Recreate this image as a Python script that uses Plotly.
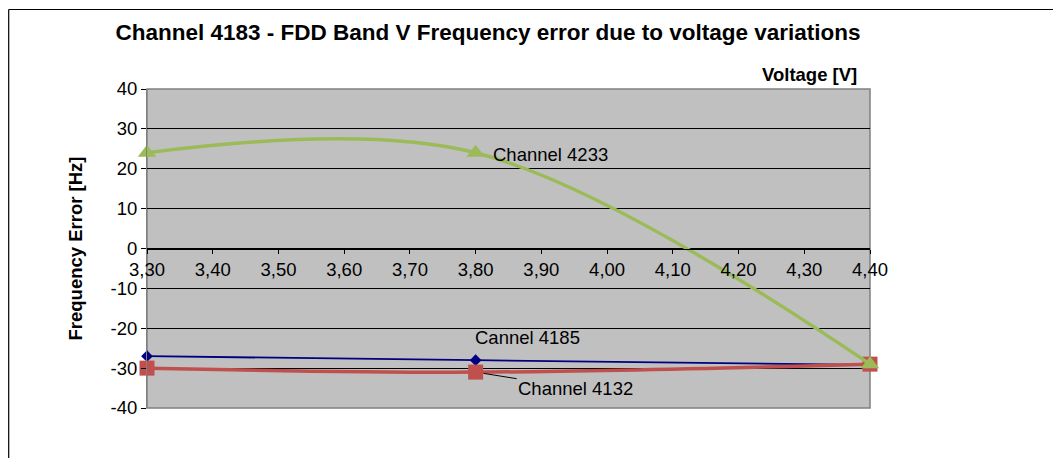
import plotly.graph_objects as go

voltage = [3.30, 3.80, 4.40]
ch4233 = [24, 24, -29]
ch4185 = [-27, -28, -29.2]
ch4132 = [-30, -31, -29]
y_ticks = [40, 30, 20, 10, 0, -10, -20, -30, -40]
y_ticktext = ["40", "30", "20", "10", "0", "-10", "-20", "-30", "-40"]
x_ticks = [3.30, 3.40, 3.50, 3.60, 3.70, 3.80, 3.90, 4.00, 4.10, 4.20, 4.30, 4.40]

FONT = "Liberation Sans, Arial, sans-serif"
FS = 18.5

fig = go.Figure()
fig.add_trace(go.Scatter(
    x=voltage, y=ch4185, mode="lines+markers", name="Cannel 4185", cliponaxis=False,
    line=dict(color="#000080", width=1.8, shape="spline"),
    marker=dict(symbol="diamond", size=9, color="#000080"),
))
fig.add_trace(go.Scatter(
    x=voltage, y=ch4132, mode="lines+markers", name="Channel 4132", cliponaxis=False,
    line=dict(color="#C0504D", width=3.5, shape="spline"),
    marker=dict(symbol="square", size=15, color="#C0504D"),
))
fig.add_trace(go.Scatter(
    x=voltage, y=ch4233, mode="lines+markers", name="Channel 4233", cliponaxis=False,
    line=dict(color="#9BBB59", width=3.5, shape="spline"),
    marker=dict(symbol="triangle-up", size=16, color="#9BBB59"),
))

# page body has an 8px margin: figure coordinates are screen minus 8
OFF = 8
W, H = 1061 - OFF, 458 - OFF
L, T = 147 - OFF, 89 - OFF
R = W - (870 - OFF)
B = H - (408 - OFF)
pw, ph = W - L - R, H - T - B

def px_x(sx):
    return (sx - OFF - L) / pw

def px_y(sy):
    return (H - B - (sy - OFF)) / ph

fig.update_layout(
    width=W, height=H,
    margin=dict(l=L, r=R, t=T, b=B, pad=0),
    paper_bgcolor="white", plot_bgcolor="#C0C0C0",
    showlegend=False,
    separators=",.",
    font=dict(family=FONT, size=FS, color="black"),
    title=dict(
        text="Channel 4183 - FDD Band V Frequency error due to voltage variations",
        font=dict(family=FONT, size=22.5, weight="bold", color="black"),
        x=(488 - OFF) / W, xanchor="center", xref="container",
        y=1 - (32 - OFF) / H, yanchor="middle", yref="container",
    ),
    xaxis=dict(
        range=[3.30, 4.40], tickvals=x_ticks, tickformat=".2f",
        anchor="free", position=0.5,
        showline=True, linecolor="black", linewidth=1,
        ticks="outside", ticklen=4, tickcolor="black",
        showgrid=False, zeroline=False,
        tickfont=dict(family=FONT, size=FS, color="black"),
    ),
    yaxis=dict(
        range=[-40, 40], tickvals=y_ticks, ticktext=y_ticktext,
        showline=True, linecolor="#808080", linewidth=1,
        ticks="outside", ticklen=5, tickcolor="black",
        showgrid=True, gridcolor="black", gridwidth=1, zeroline=False,
        tickfont=dict(family=FONT, size=FS, color="black"),
        title=dict(text="Frequency Error [Hz]", standoff=23,
                   font=dict(family=FONT, size=FS, weight="bold", color="black")),
    ),
)

# plot area frame
fig.add_shape(type="rect", xref="paper", yref="paper", x0=0, x1=1, y0=0, y1=1,
              line=dict(color="#808080", width=1.5), layer="below")
# outer chart frame (top and left edges)
fig.add_shape(type="line", xref="paper", yref="paper",
              x0=px_x(8.7), x1=px_x(1100), y0=px_y(9.5), y1=px_y(9.5),
              line=dict(color="black", width=1.2))
fig.add_shape(type="line", xref="paper", yref="paper",
              x0=px_x(8.7), x1=px_x(8.7), y0=px_y(9.5), y1=px_y(500),
              line=dict(color="black", width=1.2))

# axis title at top right
fig.add_annotation(text="Voltage [V]", xref="paper", yref="paper",
                   x=px_x(859), y=px_y(74), xanchor="right", yanchor="middle",
                   showarrow=False, font=dict(family=FONT, size=FS, weight="bold", color="black"))

# data labels
fig.add_annotation(text="Channel 4233", x=voltage[1], y=ch4233[1], xanchor="left", yanchor="middle",
                   xshift=15, yshift=-2, showarrow=False, font=dict(family=FONT, size=FS, color="black"))
fig.add_annotation(text="Cannel 4185", x=voltage[1], y=ch4185[1], xanchor="center", yanchor="bottom",
                   xshift=52, yshift=10, showarrow=False, font=dict(family=FONT, size=FS, color="black"))
fig.add_annotation(text="Channel 4132", x=voltage[1], y=ch4132[1], ax=100, ay=16,
                   showarrow=True, arrowhead=0, arrowwidth=1, arrowcolor="black", standoff=8,
                   font=dict(family=FONT, size=FS, color="black"))

fig.write_html("out.html")
